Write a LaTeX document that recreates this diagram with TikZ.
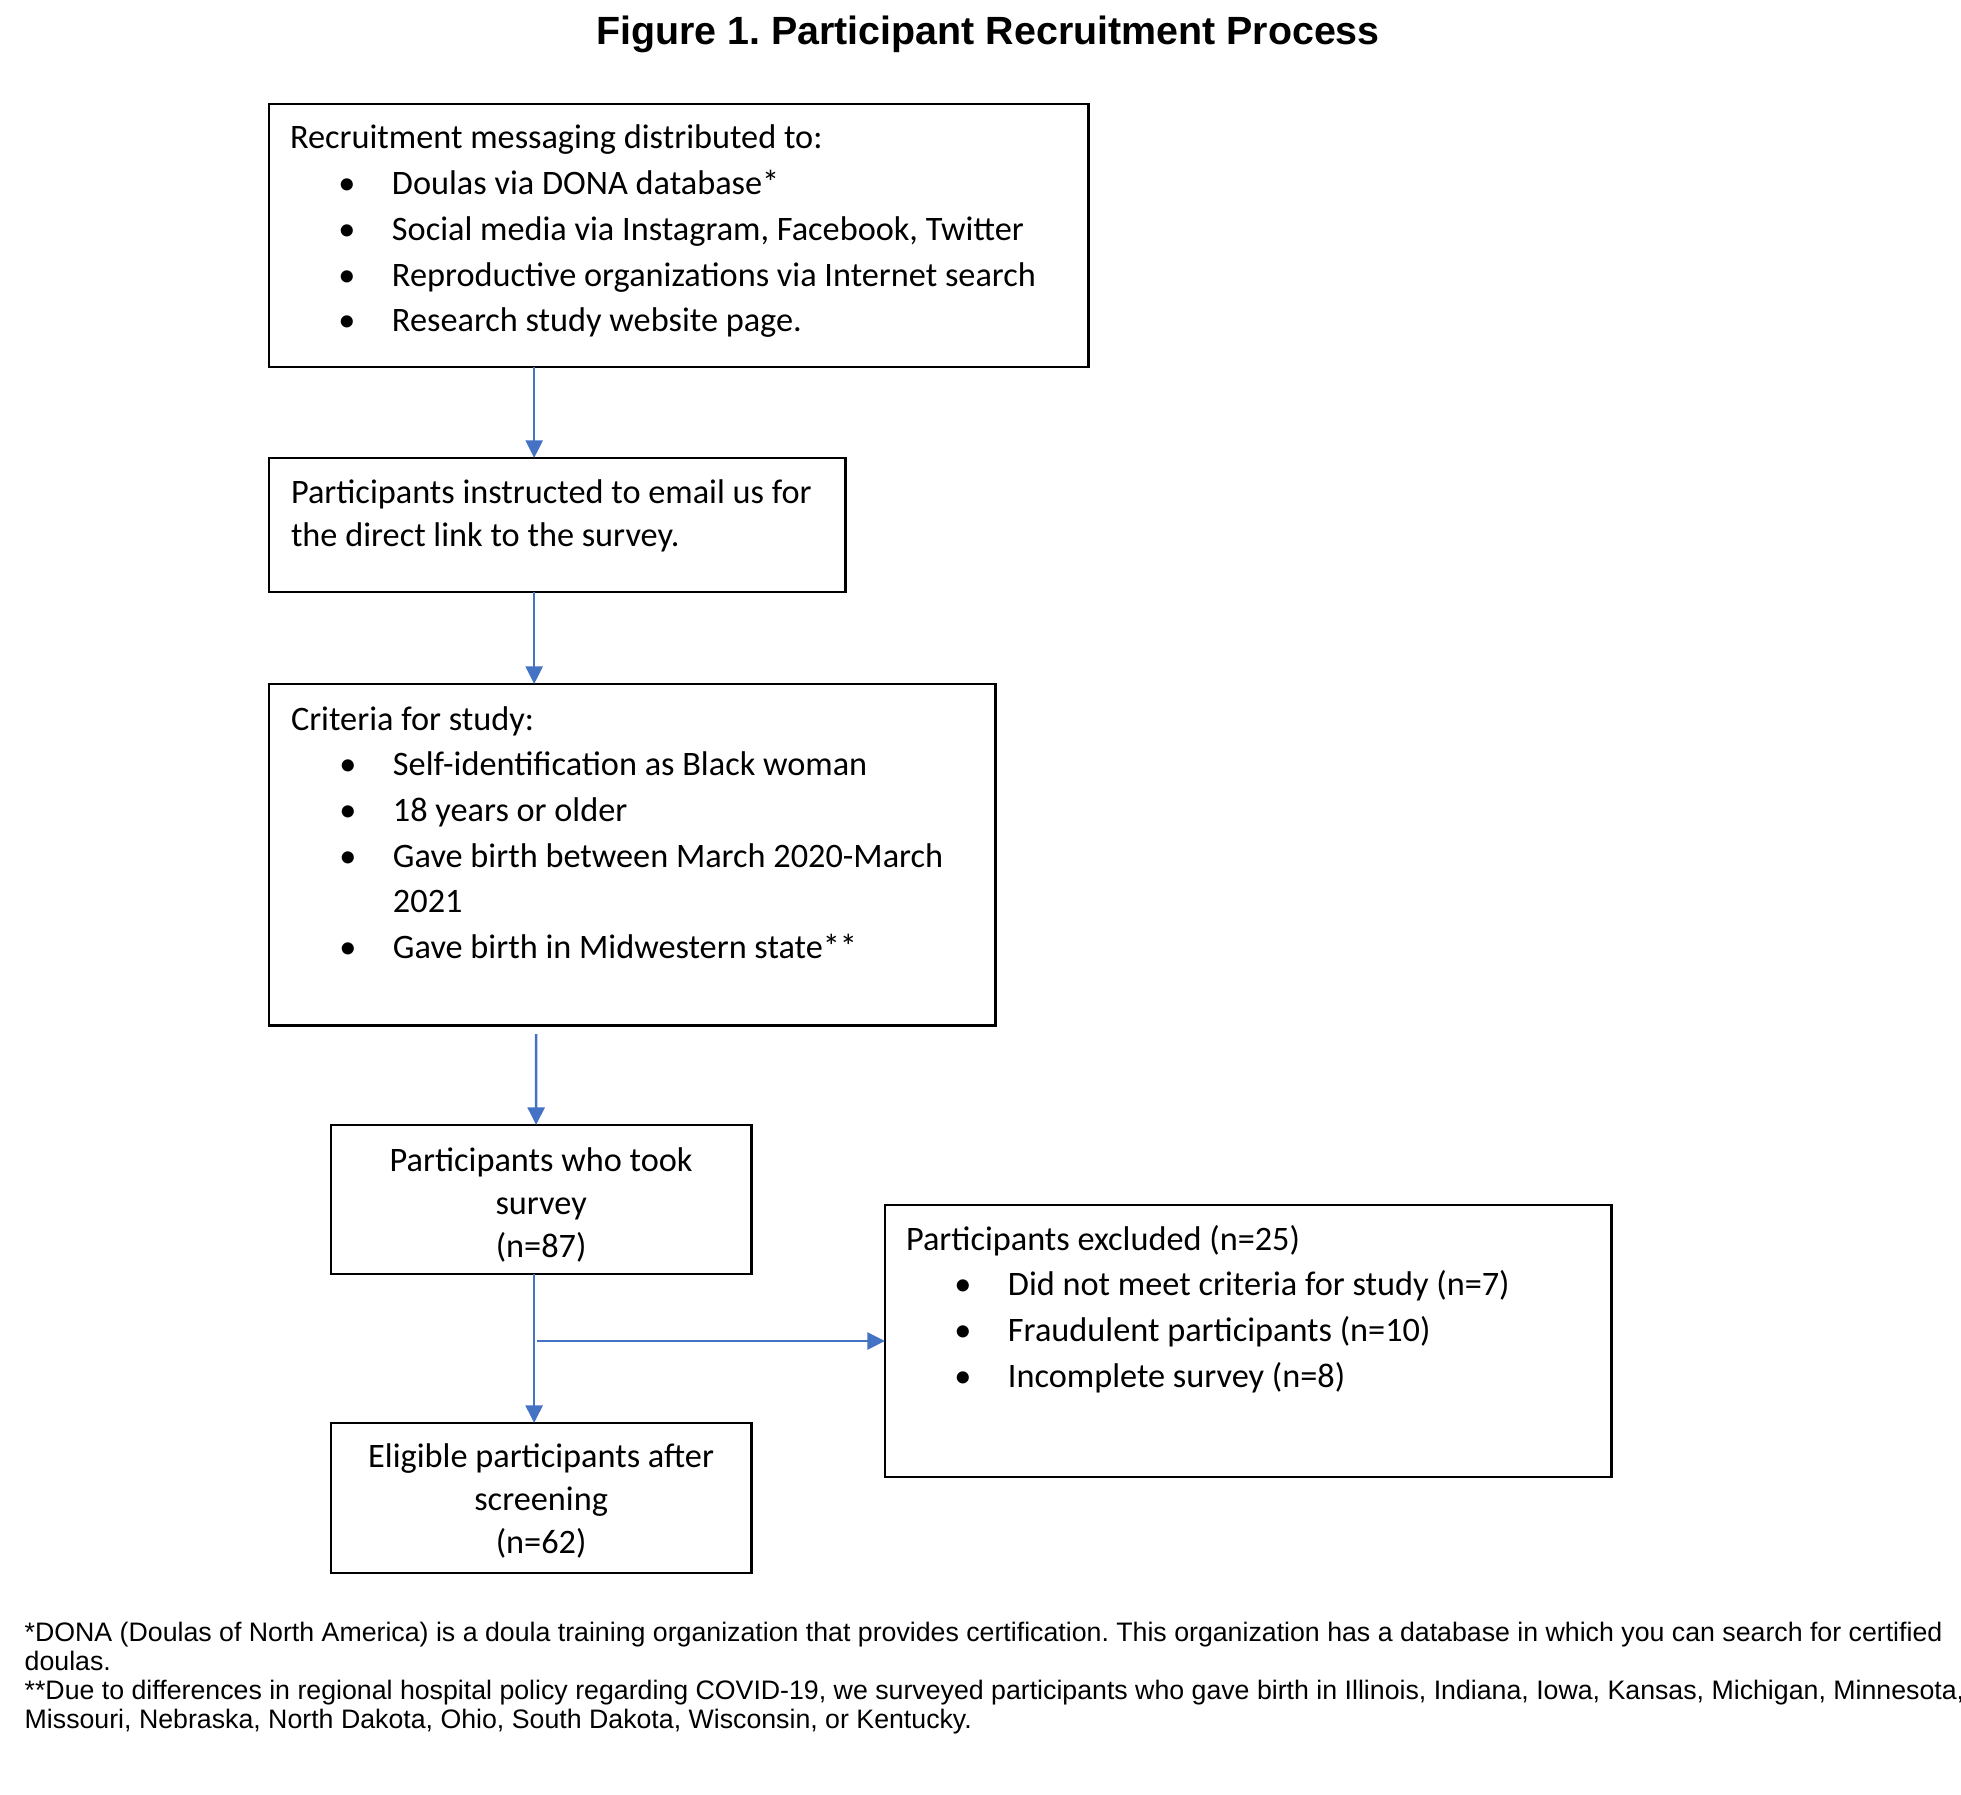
\documentclass[tikz,border=0pt]{standalone}
\usepackage{fontspec}
\setmainfont{Carlito}
\newfontfamily\arialf{Liberation Sans}
\usetikzlibrary{arrows.meta,calc}
\definecolor{arrblue}{HTML}{4472C4}
\frenchspacing
\newcommand{\btab}[1]{\begin{tabular}[t]{@{}l@{}}#1\end{tabular}}
\newcommand{\ctab}[1]{\begin{tabular}[t]{@{}c@{}}#1\end{tabular}}
\newcommand{\bitem}[1]{\hspace*{16.2pt}\makebox[0pt]{\textbullet}\hspace*{12.8pt}#1}
\newcommand{\bcont}[1]{\hspace*{29pt}#1}
\tikzset{
  box/.style={draw=black, line width=0.75pt, inner sep=0pt, outer sep=0pt, anchor=north west},
  txt/.style={inner sep=0pt, outer sep=0pt, anchor=base west, font=\fontsize{9.75}{13}\selectfont},
  txtb/.style={inner sep=0pt, outer sep=0pt, anchor=base west, font=\fontsize{9.75}{12.3}\selectfont},
  ctxt/.style={inner sep=0pt, outer sep=0pt, anchor=base, font=\fontsize{9.75}{12.3}\selectfont},
  arr/.style={draw=arrblue, line width=0.75pt, -{Triangle[width=4.8pt,length=5pt]}},
}
\begin{document}
\begin{tikzpicture}[x=0.01cm,y=-0.01cm]
\useasboundingbox (0,0) rectangle (1961,1794);
\node[anchor=base, inner sep=0pt, font=\arialf\bfseries\fontsize{11.2}{13}\selectfont] (title) at (988,45) {Figure 1. Participant Recruitment Process};

\node[box, minimum width=8.19cm, minimum height=2.63cm] (b1) at (269,104) {};
\node[txt] (t1) at ($(b1.north west)+(21,45)$) {\btab{Recruitment messaging distributed to:\\
\bitem{Doulas via DONA database*}\\
\bitem{Social media via Instagram, Facebook, Twitter}\\
\bitem{Reproductive organizations via Internet search}\\
\bitem{Research study website page.}}};

\node[box, minimum width=5.76cm, minimum height=1.34cm] (b2) at (269,458) {};
\node[txtb] (t2) at ($(b2.north west)+(22,45)$) {\btab{Participants instructed to email us for\\ the direct link to the survey.}};

\node[box, minimum width=7.26cm, minimum height=3.41cm] (b3) at (269,684) {};
\node[txt] (t3) at ($(b3.north west)+(22,46)$) {\btab{Criteria for study:\\
\bitem{Self-identification as Black woman}\\
\bitem{18 years or older}\\
\bitem{Gave birth between March 2020-March}\\
\bcont{2021}\\
\bitem{Gave birth in Midwestern state**}}};

\node[box, minimum width=4.20cm, minimum height=1.49cm] (b4) at (331,1125) {};
\node[ctxt] (t4) at ($(b4.north)+(0,46)$) {\ctab{Participants who took\\ survey\\ (n=87)}};

\node[box, minimum width=7.26cm, minimum height=2.72cm] (b5) at (885,1205) {};
\node[txt] (t5) at ($(b5.north west)+(21,45)$) {\btab{Participants excluded (n=25)\\
\bitem{Did not meet criteria for study (n=7)}\\
\bitem{Fraudulent participants (n=10)}\\
\bitem{Incomplete survey (n=8)}}};

\node[box, minimum width=4.20cm, minimum height=1.50cm] (b6) at (331,1423) {};
\node[ctxt] (t6) at ($(b6.north)+(0,44)$) {\ctab{Eligible participants after\\ screening\\ (n=62)}};

\draw[arr] ([xshift=2.65cm]b1.south west) -- ([xshift=2.65cm]b2.north west);
\draw[arr] ([xshift=2.65cm]b2.south west) -- ([xshift=2.65cm]b3.north west);
\draw[arr] ([xshift=2.67cm,yshift=-0.09cm]b3.south west) -- ([xshift=2.05cm]b4.north west);
\draw[arr] ([xshift=2.03cm]b4.south west) -- ([xshift=2.03cm]b6.north west);
\coordinate (h) at (537,1341);
\draw[arr] (h) -- (h -| b5.west);

\node[anchor=base west, inner sep=0pt, font=\arialf\fontsize{7.6}{8.25}\selectfont] (fn) at (24,1641) {\btab{*DONA (Doulas of North America) is a doula training organization that provides certification. This organization has a database in which you can search for certified\\
doulas.\\
{}**Due to differences in regional hospital policy regarding COVID-19, we surveyed participants who gave birth in Illinois, Indiana, Iowa, Kansas, Michigan, Minnesota,\\
Missouri, Nebraska, North Dakota, Ohio, South Dakota, Wisconsin, or Kentucky.}};
\end{tikzpicture}
\end{document}
